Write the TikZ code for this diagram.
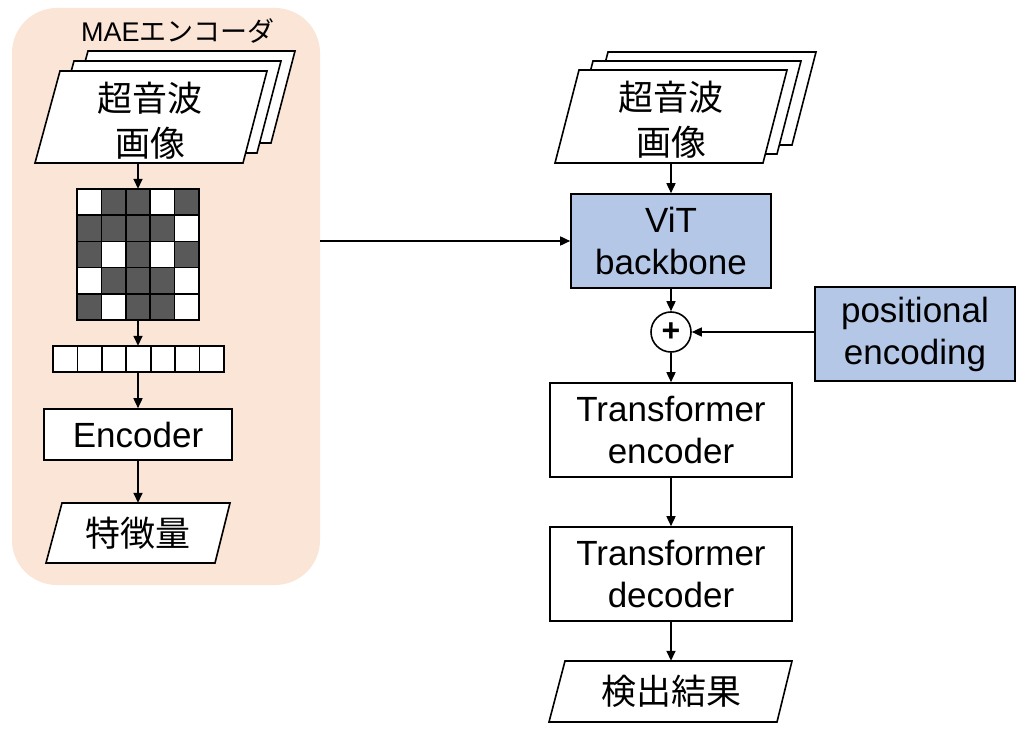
\documentclass[tikz,border=0pt]{standalone}
\usepackage{fontspec}
\setmainfont{Liberation Sans}
\newfontfamily\jp{Noto Sans CJK JP}
\usetikzlibrary{arrows.meta}
\definecolor{peach}{HTML}{FBE5D6}
\definecolor{lblue}{HTML}{B4C7E7}
\definecolor{dgray}{HTML}{595959}
\begin{document}
\begin{tikzpicture}[x=1pt,y=-1pt,
  box/.style={draw=black, line width=1.6pt, fill=white, inner sep=0pt, align=center, font=\fontsize{35}{42}\selectfont},
  arr/.style={line width=1.6pt, -{Triangle[length=10pt,width=9pt]}},
  jptext/.style={inner sep=0pt, align=center, font=\jp\fontsize{35}{45}\selectfont},
  para/.style={draw=black, line width=1.6pt, fill=white, line join=miter},
  cell/.style={draw=black, line width=1.6pt},
]
\useasboundingbox (0,0) rectangle (1026,735);
\fill[white] (0,0) rectangle (1026,735);

% MAE encoder panel
\node[fill=peach, rounded corners=45pt, minimum width=308pt, minimum height=577pt, inner sep=0pt] (mae) at (166,296.5) {};
\node[inner sep=0pt, font=\fontsize{27}{30}\selectfont] (title) at (178,31) {MAE{\jp エンコーダ}};

% left image stack
\draw[para] (88,51) -- (295,51) -- (271,143) -- (63,143) -- cycle;
\draw[para] (74,61) -- (281,61) -- (257,153) -- (49,153) -- cycle;
\draw[para] (60,71) -- (267,71) -- (243,163) -- (35,163) -- cycle;
\node[jptext, minimum width=200pt, minimum height=84pt] (img1) at (150,121) {超音波\\画像};

% patch grid
\node[inner sep=0pt, minimum width=122pt, minimum height=131pt] (grid) at (138,254.5) {};
\foreach \i in {0,...,4} {
  \foreach \j in {0,...,4} {
    \draw[cell, fill=white] ({77+\i*24.4},{189+\j*26.2}) rectangle ++(24.4,26.2);
  }
}
\foreach \i/\j in {1/0,2/0,4/0, 0/1,1/1,2/1,3/1, 0/2,2/2,4/2, 1/3,2/3,3/3, 0/4,2/4,3/4} {
  \draw[cell, fill=dgray] ({77+\i*24.4},{189+\j*26.2}) rectangle ++(24.4,26.2);
}

% token row
\node[inner sep=0pt, minimum width=171pt, minimum height=26pt] (tokens) at (138.5,359) {};
\foreach \i in {0,...,6} {
  \draw[cell, fill=white] ({53+\i*24.43},346) rectangle ++(24.43,26);
}

% encoder
\node[box, minimum width=188pt, minimum height=51pt] (enc) at (138,434.5) {Encoder};

% feature parallelogram
\draw[para] (62,503) -- (230,503) -- (215,563) -- (46,563) -- cycle;
\node[jptext, minimum width=160pt, minimum height=60pt] (feat) at (138,533) {特徴量};

% right image stack
\draw[para] (608,52) -- (816,52) -- (792,145) -- (584,145) -- cycle;
\draw[para] (593,61) -- (801,61) -- (777,154) -- (569,154) -- cycle;
\draw[para] (579,70) -- (787,70) -- (763,163) -- (555,163) -- cycle;
\node[jptext, minimum width=200pt, minimum height=86pt] (img2) at (671,120) {超音波\\画像};

% right column
\node[box, fill=lblue, minimum width=200pt, minimum height=94pt] (vit) at (671,241) {ViT\\backbone};
\node[draw=black, line width=1.6pt, circle, fill=white, inner sep=0pt, minimum size=40pt, font=\bfseries\fontsize{32}{32}\selectfont] (plus) at (671,332) {+};
\node[box, fill=lblue, minimum width=200pt, minimum height=94pt] (pe) at (915,334) {positional\\encoding};
\node[box, minimum width=242pt, minimum height=94pt] (te) at (671,430) {Transformer\\encoder};
\node[box, minimum width=242pt, minimum height=94pt] (td) at (671,574) {Transformer\\decoder};

\draw[para] (565,661) -- (792,661) -- (777,722) -- (549,722) -- cycle;
\node[jptext, minimum width=200pt, minimum height=61pt] (res) at (671,691.5) {検出結果};

% connectors
\draw[arr] (img1.south -| grid.north) -- (grid.north);
\draw[arr] (grid.south) -- (grid.south |- tokens.north);
\draw[arr] (tokens.south -| enc.north) -- (enc.north);
\draw[arr] (enc.south) -- (feat.north);
\draw[arr] (mae.east |- vit.west) -- (vit.west);
\draw[arr] (img2.south -| vit.north) -- (vit.north);
\draw[arr] (vit.south) -- (plus.north);
\draw[arr] (pe.west |- plus.east) -- (plus.east);
\draw[arr] (plus.south) -- (te.north);
\draw[arr] (te.south) -- (td.north);
\draw[arr] (td.south) -- (res.north);
\end{tikzpicture}
\end{document}
